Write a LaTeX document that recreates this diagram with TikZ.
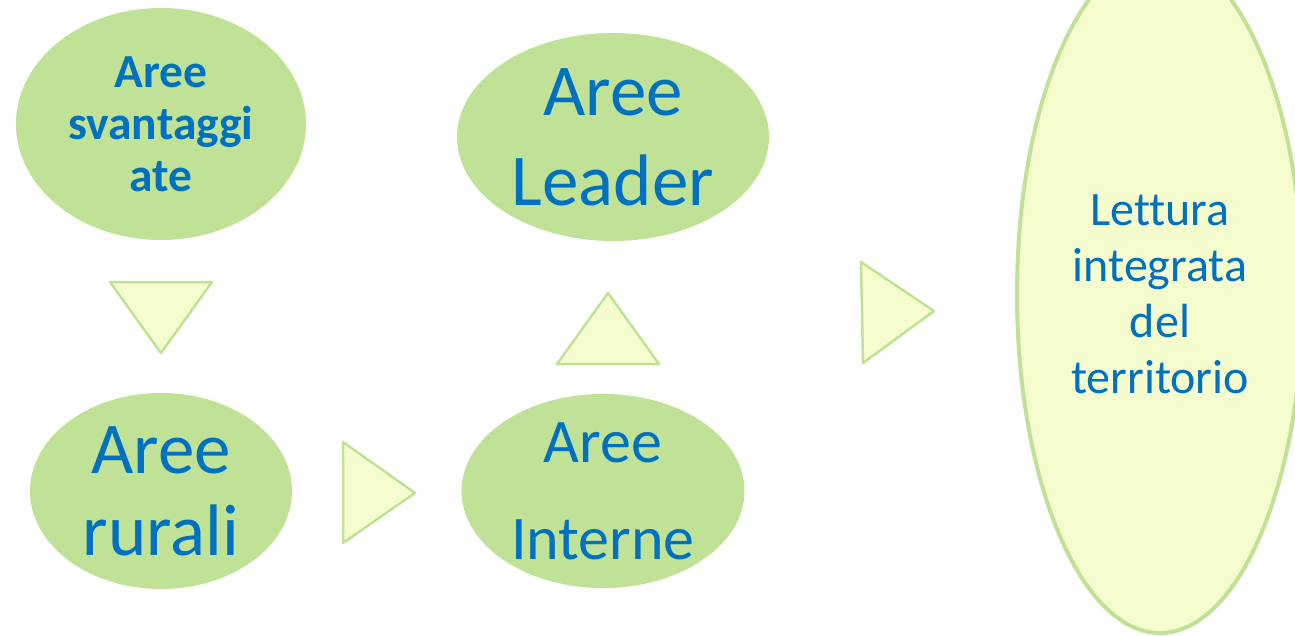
\documentclass[tikz,border=0pt]{standalone}
\usepackage{fontspec}
\setmainfont{Carlito}[RawFeature=-liga]
\usetikzlibrary{shapes.geometric}
\definecolor{leafgreen}{RGB}{192,226,150}
\definecolor{paleyellow}{RGB}{245,252,205}
\definecolor{textblue}{RGB}{0,112,192}

\begin{document}
\begin{tikzpicture}[x=1pt,y=-1pt,
        every node/.style={ellipse,fill=leafgreen,text=textblue,align=center,inner sep=0pt},
        bigfont/.style={font=\fontsize{73}{82}\selectfont},
        arrowtri/.style={draw=leafgreen,fill=paleyellow,line width=2.5pt,line join=round}]

    \useasboundingbox (0,0) rectangle (1295,636);

    \node[minimum width=290,minimum height=232,font=\bfseries\fontsize{47.5}{52}\selectfont] (svant) at (161,124) {Aree\\svantaggi\\ate};
    \node[minimum width=312,minimum height=208,font=\fontsize{73}{90}\selectfont] (leader) at (613,137) {Aree\\Leader};
    \node[minimum width=262,minimum height=196,bigfont] (rurali) at (161,491) {Aree\\rurali};
    \node[minimum width=283,minimum height=188,font=\fontsize{62}{97}\selectfont] (interne) at (603,491) {Aree\\Interne};
    \node[draw=leafgreen,fill=paleyellow,line width=4pt,minimum width=286,minimum height=678,
          font=\fontsize{48}{56}\selectfont] (lettura) at (1160,294) {Lettura\\integrata\\del\\territorio};

    % triangoli tra le aree
    \draw[arrowtri] (110,282) -- (212,282) -- (161,353) -- cycle;
    \draw[arrowtri] (343,442) -- (415,493) -- (343,543) -- cycle;
    \draw[arrowtri] (557,364) -- (608,293) -- (659,364) -- cycle;
    \draw[arrowtri] (861,262) -- (934,311) -- (863,363) -- cycle;
\end{tikzpicture}
\end{document}
